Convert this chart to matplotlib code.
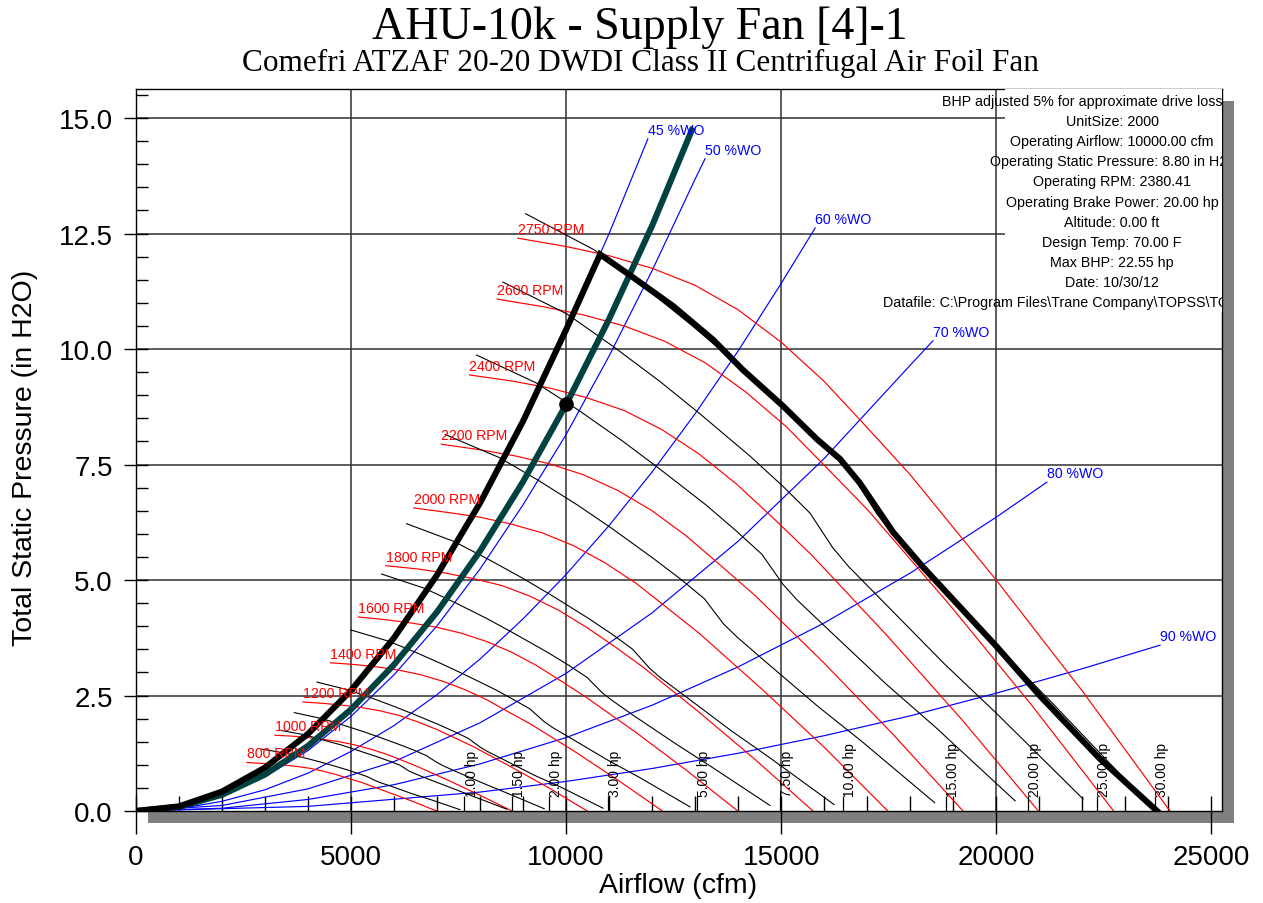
import numpy as np
import matplotlib.pyplot as plt
from matplotlib.patches import Rectangle
from matplotlib.ticker import MultipleLocator, FormatStrFormatter

plt.rcParams['font.family'] = ['Liberation Sans', 'DejaVu Sans']

# ---- fan speed curves (cfm, in H2O) ----
rpm2750_cfm = [8880, 10000, 11000, 12000, 13000, 14000, 15000, 16000, 17000, 18000, 20000, 22000, 24040]
rpm2750_sp = [12.40, 12.22, 12.02, 11.75, 11.38, 10.85, 10.15, 9.30, 8.30, 7.28, 5.00, 2.60, 0.0]
rpm2600_cfm = [8400, 9450, 10400, 11350, 12290, 13240, 14180, 15130, 16070, 17020, 18910, 20800, 22730]
rpm2600_sp = [11.08, 10.92, 10.74, 10.50, 10.17, 9.70, 9.07, 8.31, 7.42, 6.51, 4.47, 2.32, 0.0]
rpm2400_cfm = [7750, 8730, 9600, 10470, 11350, 12220, 13090, 13960, 14840, 15710, 17450, 19200, 20980]
rpm2400_sp = [9.44, 9.31, 9.16, 8.95, 8.67, 8.26, 7.73, 7.08, 6.32, 5.54, 3.81, 1.98, 0.0]
rpm2200_cfm = [7100, 8000, 8800, 9600, 10400, 11200, 12000, 12800, 13600, 14400, 16000, 17600, 19230]
rpm2200_sp = [7.94, 7.82, 7.69, 7.52, 7.28, 6.94, 6.50, 5.95, 5.31, 4.66, 3.20, 1.66, 0.0]
rpm2000_cfm = [6460, 7270, 8000, 8730, 9450, 10180, 10910, 11640, 12360, 13090, 14550, 16000, 17480]
rpm2000_sp = [6.56, 6.46, 6.36, 6.21, 6.02, 5.74, 5.37, 4.92, 4.39, 3.85, 2.64, 1.38, 0.0]
rpm1800_cfm = [5810, 6550, 7200, 7850, 8510, 9160, 9820, 10470, 11130, 11780, 13090, 14400, 15740]
rpm1800_sp = [5.31, 5.24, 5.15, 5.03, 4.88, 4.65, 4.35, 3.98, 3.56, 3.12, 2.14, 1.11, 0.0]
rpm1600_cfm = [5170, 5820, 6400, 6980, 7560, 8150, 8730, 9310, 9890, 10470, 11640, 12800, 13990]
rpm1600_sp = [4.20, 4.14, 4.07, 3.98, 3.85, 3.67, 3.44, 3.15, 2.81, 2.46, 1.69, 0.88, 0.0]
rpm1400_cfm = [4520, 5090, 5600, 6110, 6620, 7130, 7640, 8150, 8650, 9160, 10180, 11200, 12240]
rpm1400_sp = [3.21, 3.17, 3.12, 3.05, 2.95, 2.81, 2.63, 2.41, 2.15, 1.89, 1.30, 0.67, 0.0]
rpm1200_cfm = [3880, 4360, 4800, 5240, 5670, 6110, 6550, 6980, 7420, 7850, 8730, 9600, 10490]
rpm1200_sp = [2.36, 2.33, 2.29, 2.24, 2.17, 2.07, 1.93, 1.77, 1.58, 1.39, 0.95, 0.50, 0.0]
rpm1000_cfm = [3230, 3640, 4000, 4360, 4730, 5090, 5450, 5820, 6180, 6550, 7270, 8000, 8740]
rpm1000_sp = [1.64, 1.62, 1.59, 1.55, 1.50, 1.43, 1.34, 1.23, 1.10, 0.96, 0.66, 0.34, 0.0]
rpm800_cfm = [2580, 2910, 3200, 3490, 3780, 4070, 4360, 4650, 4950, 5240, 5820, 6400, 6990]
rpm800_sp = [1.05, 1.03, 1.02, 0.99, 0.96, 0.92, 0.86, 0.79, 0.70, 0.62, 0.42, 0.22, 0.0]
rpm_labels = ['800 RPM', '1000 RPM', '1200 RPM', '1400 RPM', '1600 RPM', '1800 RPM',
              '2000 RPM', '2200 RPM', '2400 RPM', '2600 RPM', '2750 RPM']

# ---- brake horsepower curves ----
hp1_cfm = [2920, 3430, 3790, 4170, 4480, 4880, 5140, 5360, 5540, 5660, 5920, 6430, 6840, 7530]
hp1_sp = [1.34, 1.26, 1.18, 1.09, 1.01, 0.90, 0.82, 0.75, 0.67, 0.62, 0.54, 0.37, 0.25, 0.03]
hp1_5_cfm = [3340, 3920, 4340, 4770, 5130, 5590, 5890, 6140, 6340, 6480, 6770, 7360, 7830, 8620]
hp1_5_sp = [1.75, 1.65, 1.54, 1.43, 1.32, 1.18, 1.08, 0.99, 0.87, 0.81, 0.70, 0.49, 0.32, 0.04]
hp2_cfm = [3680, 4320, 4780, 5250, 5650, 6150, 6480, 6750, 6980, 7140, 7450, 8100, 8620, 9490]
hp2_sp = [2.13, 2.00, 1.87, 1.73, 1.60, 1.43, 1.31, 1.20, 1.06, 0.98, 0.85, 0.59, 0.39, 0.05]
hp3_cfm = [4210, 4940, 5470, 6010, 6470, 7040, 7420, 7730, 7990, 8170, 8530, 9270, 9870, 10860]
hp3_sp = [2.79, 2.62, 2.45, 2.26, 2.09, 1.87, 1.71, 1.57, 1.39, 1.29, 1.12, 0.77, 0.52, 0.06]
hp5_cfm = [4990, 5860, 6490, 7120, 7670, 8350, 8800, 9160, 9470, 9680, 10120, 10990, 11700, 12880]
hp5_sp = [3.92, 3.68, 3.44, 3.18, 2.94, 2.63, 2.40, 2.21, 1.95, 1.81, 1.57, 1.09, 0.73, 0.09]
hp7_5_cfm = [5710, 6710, 7420, 8150, 8780, 9560, 10070, 10490, 10850, 11090, 11580, 12590, 13390, 14740]
hp7_5_sp = [5.13, 4.82, 4.51, 4.17, 3.85, 3.44, 3.15, 2.89, 2.55, 2.38, 2.06, 1.43, 0.95, 0.12]
hp10_cfm = [6290, 7380, 8170, 8970, 9660, 10520, 11080, 11550, 11940, 12200, 12750, 13850, 14740, 16230]
hp10_sp = [6.22, 5.84, 5.46, 5.05, 4.67, 4.17, 3.82, 3.50, 3.09, 2.88, 2.50, 1.73, 1.15, 0.14]
hp15_cfm = [7190, 8450, 9350, 10270, 11060, 12040, 12690, 13220, 13660, 13970, 14590, 15860, 16870, 18570]
hp15_sp = [8.15, 7.65, 7.16, 6.62, 6.12, 5.46, 5.00, 4.59, 4.05, 3.77, 3.27, 2.26, 1.51, 0.18]
hp20_cfm = [7920, 9300, 10300, 11310, 12170, 13260, 13960, 14550, 15040, 15370, 16060, 17450, 18570, 20440]
hp20_sp = [9.87, 9.27, 8.67, 8.01, 7.41, 6.62, 6.06, 5.56, 4.91, 4.57, 3.96, 2.74, 1.83, 0.22]
hp25_cfm = [8530, 10020, 11090, 12180, 13110, 14280, 15040, 15670, 16200, 16560, 17300, 18800, 20000, 22020]
hp25_sp = [11.45, 10.76, 10.06, 9.30, 8.60, 7.68, 7.03, 6.45, 5.70, 5.30, 4.60, 3.18, 2.12, 0.26]
hp30_cfm = [9060, 10650, 11790, 12940, 13930, 15180, 15980, 16650, 17220, 17600, 18380, 19980, 21250, 23400]
hp30_sp = [12.93, 12.15, 11.36, 10.50, 9.71, 8.67, 7.94, 7.28, 6.44, 5.98, 5.19, 3.59, 2.39, 0.29]
hp_labels = ['1.00 hp', '1.50 hp', '2.00 hp', '3.00 hp', '5.00 hp', '7.50 hp',
             '10.00 hp', '15.00 hp', '20.00 hp', '25.00 hp', '30.00 hp']
hp_label_cfm = [7630, 8740, 9600, 10970, 13040, 14970, 16440, 18830, 20740, 22340, 23690]

# ---- % wide open system lines ----
wo45_cfm = [0, 1000, 2000, 3000, 4000, 5000, 6000, 7000, 8000, 9000, 10000, 11000, 11900]
wo45_sp = [0, 0.10, 0.42, 0.94, 1.67, 2.61, 3.75, 5.11, 6.67, 8.44, 10.40, 12.50, 14.55]
wo50_cfm = [0, 1000, 2000, 3000, 4000, 5000, 6000, 7000, 8000, 9000, 10000, 11000, 12000, 13000, 13230]
wo50_sp = [0, 0.08, 0.33, 0.74, 1.31, 2.05, 2.95, 4.01, 5.24, 6.63, 8.15, 9.85, 11.70, 13.68, 14.12]
wo60_cfm = [0, 1000, 2000, 3000, 4000, 5000, 6000, 7000, 8000, 9000, 10000, 11000, 12000, 13000, 14000, 15000, 15790]
wo60_sp = [0, 0.05, 0.21, 0.46, 0.82, 1.29, 1.85, 2.52, 3.29, 4.16, 5.12, 6.18, 7.34, 8.60, 9.96, 11.42, 12.62]
wo70_cfm = [0, 2000, 4000, 6000, 8000, 10000, 12000, 14000, 16000, 18000, 18530]
wo70_sp = [0, 0.12, 0.48, 1.07, 1.91, 2.98, 4.29, 5.84, 7.63, 9.65, 10.18]
wo80_cfm = [0, 2000, 4000, 6000, 8000, 10000, 12000, 14000, 16000, 18000, 20000, 21180]
wo80_sp = [0, 0.06, 0.25, 0.57, 1.02, 1.59, 2.29, 3.12, 4.07, 5.15, 6.36, 7.12]
wo90_cfm = [0, 4000, 8000, 10000, 12000, 14000, 16000, 18000, 20000, 22000, 23810]
wo90_sp = [0, 0.10, 0.41, 0.64, 0.92, 1.25, 1.63, 2.06, 2.55, 3.08, 3.59]
wo_labels = ['45 %WO', '50 %WO', '60 %WO', '70 %WO', '80 %WO', '90 %WO']

# ---- system curve, operating envelope, operating point ----
sys_cfm = [0, 1000, 2000, 3000, 4000, 5000, 6000, 7000, 8000, 9000, 10000, 11000, 12000, 12950]
sys_sp = [0, 0.09, 0.35, 0.79, 1.41, 2.20, 3.17, 4.31, 5.63, 7.13, 8.80, 10.65, 12.67, 14.80]
env_cfm = [0, 1000, 2000, 3000, 4000, 5000, 6000, 7000, 8000, 9000, 10000, 10790, 11560, 12490,
           13420, 14110, 15040, 15830, 16370, 16830, 17600, 18300, 20020, 21020, 22410, 23740]
env_sp = [0, 0.10, 0.42, 0.94, 1.67, 2.61, 3.75, 5.11, 6.67, 8.44, 10.42, 12.05, 11.55, 10.93,
          10.20, 9.55, 8.77, 8.05, 7.62, 7.10, 6.04, 5.28, 3.55, 2.49, 1.13, 0.0]
op_cfm, op_sp = 10000, 8.80

info_lines = ['BHP adjusted 5% for approximate drive loss', 'UnitSize: 2000',
              'Operating Airflow: 10000.00 cfm', 'Operating Static Pressure: 8.80 in H2O',
              'Operating RPM: 2380.41', 'Operating Brake Power: 20.00 hp',
              'Altitude: 0.00 ft', 'Design Temp: 70.00 F', 'Max BHP: 22.55 hp',
              'Date: 10/30/12',
              'Datafile: C:\\Program Files\\Trane Company\\TOPSS\\TOPSS\\Data\\Fans.mdb']

rpm_curves = [(rpm800_cfm, rpm800_sp), (rpm1000_cfm, rpm1000_sp), (rpm1200_cfm, rpm1200_sp),
              (rpm1400_cfm, rpm1400_sp), (rpm1600_cfm, rpm1600_sp), (rpm1800_cfm, rpm1800_sp),
              (rpm2000_cfm, rpm2000_sp), (rpm2200_cfm, rpm2200_sp), (rpm2400_cfm, rpm2400_sp),
              (rpm2600_cfm, rpm2600_sp), (rpm2750_cfm, rpm2750_sp)]
hp_curves = [(hp1_cfm, hp1_sp), (hp1_5_cfm, hp1_5_sp), (hp2_cfm, hp2_sp), (hp3_cfm, hp3_sp),
             (hp5_cfm, hp5_sp), (hp7_5_cfm, hp7_5_sp), (hp10_cfm, hp10_sp), (hp15_cfm, hp15_sp),
             (hp20_cfm, hp20_sp), (hp25_cfm, hp25_sp), (hp30_cfm, hp30_sp)]
wo_curves = [(wo45_cfm, wo45_sp), (wo50_cfm, wo50_sp), (wo60_cfm, wo60_sp),
             (wo70_cfm, wo70_sp), (wo80_cfm, wo80_sp), (wo90_cfm, wo90_sp)]

W, H = 1263, 904
fig = plt.figure(figsize=(W / 100, H / 100), dpi=100)
ax = fig.add_axes([136 / W, 1 - 812 / H, 1086 / W, 722 / H])
ax.set_xlim(0, 25250)
ax.set_ylim(0, 15.63)

# grid
for gx in [5000, 10000, 15000, 20000]:
    ax.axvline(gx, color='#303030', lw=1.1, zorder=1)
for gy in [2.5, 5.0, 7.5, 10.0, 12.5, 15.0]:
    ax.axhline(gy, color='#303030', lw=1.1, zorder=1)

for (q, p) in wo_curves:
    ax.plot(q, p, color='#0000ff', lw=0.85, zorder=2)
for (q, p), lbl in zip(wo_curves, wo_labels):
    ax.annotate(lbl, xy=(q[-1], p[-1]), xytext=(0, 1.5), textcoords='offset points',
                ha='left', va='bottom', color='#0000ff', fontsize=10.2, zorder=7)

for (q, p), lbl in zip(rpm_curves, rpm_labels):
    ax.plot(q, p, color='#ff0000', lw=0.85, zorder=2)
    ax.annotate(lbl, xy=(q[0], p[0]), xytext=(0, 1.5), textcoords='offset points',
                ha='left', va='bottom', color='#ff0000', fontsize=10.2, zorder=7)

for (q, p) in hp_curves:
    ax.plot(q, p, color='black', lw=0.8, zorder=2.5)
ax.vlines(hp_label_cfm, 0, 0.33, color='black', lw=0.9, zorder=2.5)
for x, lbl in zip(hp_label_cfm, hp_labels):
    ax.annotate(lbl, xy=(x, 0), xytext=(0.3, 10.8), textcoords='offset points',
                rotation=90, ha='left', va='bottom', fontsize=10, zorder=7)

ax.plot(sys_cfm, sys_sp, color='#004242', lw=4.4, zorder=3, solid_capstyle='butt')
ax.plot(env_cfm, env_sp, color='black', lw=4.4, zorder=4, solid_joinstyle='miter')
ax.plot(op_cfm, op_sp, 'o', color='black', ms=9.5, zorder=5)

# info block (white, clipped by frame)
ax.add_patch(Rectangle((0.8002, 0.6911), 0.2, 0.31, transform=ax.transAxes,
                       facecolor='white', edgecolor='none', zorder=6))
left_pos = {0: 942, 3: 990, 10: 883}
for i, line in enumerate(info_lines):
    ypx = 102 + 20.1 * i
    ya = (812 - ypx) / 722
    if i in left_pos:
        ax.text((left_pos[i] - 136) / 1086, ya, line, transform=ax.transAxes, ha='left',
                va='center', fontsize=10.3, clip_on=True, zorder=7)
    else:
        ax.text((1112 - 136) / 1086, ya, line, transform=ax.transAxes, ha='center',
                va='center', fontsize=10.3, clip_on=True, zorder=7)

# ticks
ax.set_xticks([0, 5000, 10000, 15000, 20000, 25000])
ax.xaxis.set_minor_locator(MultipleLocator(1000))
ax.xaxis.remove_overlapping_locs = False
ax.set_yticks([0, 2.5, 5.0, 7.5, 10.0, 12.5, 15.0])
ax.yaxis.set_minor_locator(MultipleLocator(0.5))
ax.yaxis.remove_overlapping_locs = False
ax.yaxis.set_major_formatter(FormatStrFormatter('%.1f'))
ax.tick_params(axis='x', which='major', direction='out', length=16.5, width=1,
               labelsize=20, pad=7)
ax.tick_params(axis='x', which='minor', direction='in', length=10.8, width=1)
ax.tick_params(axis='y', which='major', direction='out', length=8.8, width=1,
               labelsize=20, pad=8)
ax.tick_params(axis='y', which='minor', direction='in', length=8.8, width=1)
for s in ax.spines.values():
    s.set_linewidth(1)

# drop shadow
fig.add_artist(Rectangle((1222 / W, 1 - 824 / H), 12 / W, 722 / H, transform=fig.transFigure,
                         facecolor='#808080', edgecolor='none', zorder=-1))
fig.add_artist(Rectangle((148 / W, 1 - 824 / H), 1086 / W, 12 / H, transform=fig.transFigure,
                         facecolor='#808080', edgecolor='none', zorder=-1))

fig.text(640 / W, 1 - 39 / H, 'AHU-10k - Supply Fan [4]-1', ha='center', va='baseline',
         family='Liberation Serif', fontsize=33)
fig.text(641 / W, 1 - 71 / H, 'Comefri ATZAF 20-20 DWDI Class II Centrifugal Air Foil Fan',
         ha='center', va='baseline', family='Liberation Serif', fontsize=22.5)
fig.text(678 / W, 1 - 886 / H, 'Airflow (cfm)', ha='center', va='center', fontsize=20.5)
fig.text(25 / W, 1 - 458 / H, 'Total Static Pressure (in H2O)', ha='center', va='center',
         rotation=90, fontsize=20.5)

fig.savefig('out.png', dpi=100)
